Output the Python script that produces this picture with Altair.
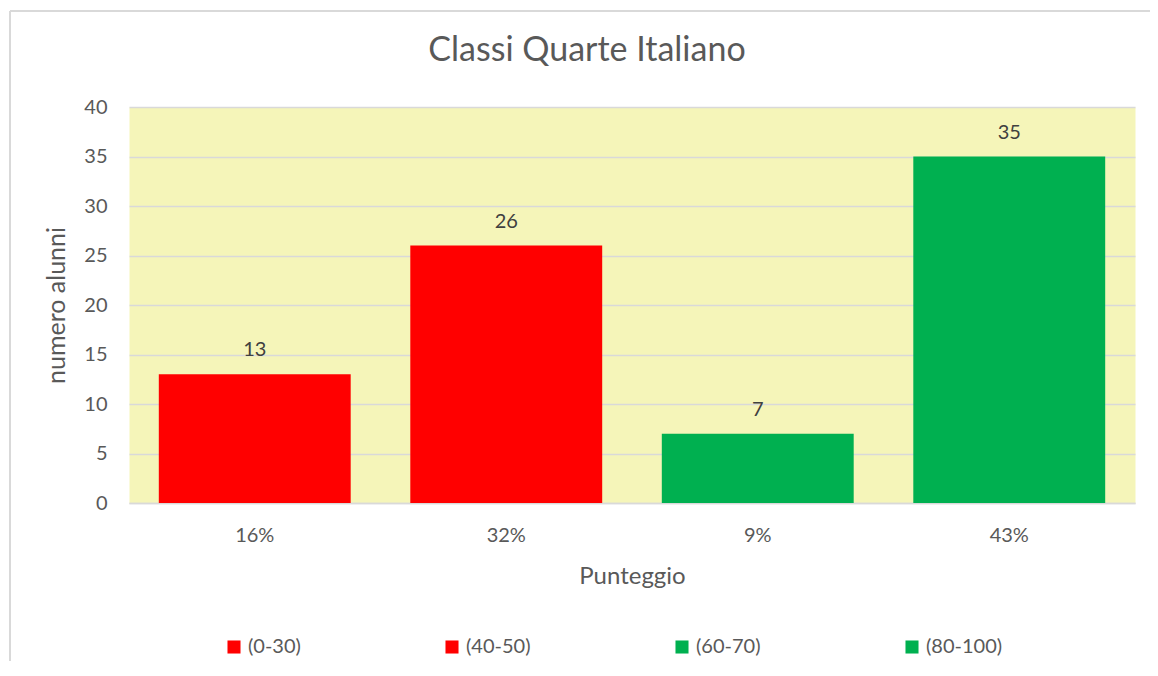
import altair as alt
import pandas as pd

fasce = ["(0-30)", "(40-50)", "(60-70)", "(80-100)"]
percentuali = ["16%", "32%", "9%", "43%"]
alunni = [13, 26, 7, 35]
colori = ["#FF0000", "#FF0000", "#00B050", "#00B050"]

df = pd.DataFrame({"fascia": fasce, "percentuale": percentuali, "alunni": alunni})

FONT = "Lato"
TXT = "#595959"

x_enc = alt.X("percentuale:N", sort=percentuali, title="Punteggio",
              scale=alt.Scale(paddingInner=0.237, paddingOuter=0.1185),
              axis=alt.Axis(labelAngle=0, labelFontSize=20, labelColor=TXT, labelFont=FONT,
                            titleFontSize=24, titleColor=TXT, titleFont=FONT, titleFontWeight="normal",
                            ticks=False, labelPadding=22, titlePadding=19,
                            domainColor="#D9D9D9", domainWidth=1.5, grid=False))
y_enc = alt.Y("alunni:Q", title="numero alunni",
              scale=alt.Scale(domain=[0, 40], nice=False),
              axis=alt.Axis(values=[0, 5, 10, 15, 20, 25, 30, 35, 40], labelFontSize=20,
                            labelColor=TXT, labelFont=FONT, labelPadding=22,
                            titleFontSize=25, titleColor=TXT, titleFont=FONT, titleFontWeight="normal",
                            titlePadding=14, ticks=False, domain=False,
                            gridColor="#D9D9D9", gridWidth=1.5))

bars = alt.Chart(df).mark_bar().encode(
    x=x_enc,
    y=y_enc,
    color=alt.Color("fascia:N", sort=fasce,
                    scale=alt.Scale(domain=fasce, range=colori),
                    legend=alt.Legend(title=None, orient="none", legendX=95, legendY=530,
                                      direction="horizontal", columns=4, columnPadding=141,
                                      symbolType="square", symbolSize=170, symbolStrokeWidth=0,
                                      labelFontSize=20, labelColor=TXT, labelFont=FONT,
                                      labelOffset=4)),
)

labels = alt.Chart(df).mark_text(dy=-24, fontSize=20, color="#404040", font=FONT).encode(
    x=alt.X("percentuale:N", sort=percentuali),
    y="alunni:Q",
    text="alunni:Q",
)

border_left = alt.Chart(df).mark_rule(color="#D9D9D9", strokeWidth=1.5).encode(
    x=alt.value(-119), y=alt.value(-96), y2=alt.value(700))
border_top = alt.Chart(df).mark_rule(color="#D9D9D9", strokeWidth=1.5).encode(
    x=alt.value(-119), x2=alt.value(1100), y=alt.value(-96))

chart = alt.layer(border_left, border_top, bars, labels).properties(
    width=1006, height=396,
    padding={"left": 121, "top": 99, "right": 15, "bottom": 158},
    autosize=alt.AutoSizeParams(type="none"),
    title=alt.TitleParams("Classi Quarte Italiano", fontSize=34, font=FONT, color=TXT,
                          fontWeight="normal", anchor="middle", dx=-45, offset=0,
                          baseline="alphabetic", dy=85),
).configure_view(fill="#F5F5B9", stroke="transparent")

chart.save("out.html", embed_options={"renderer": "svg", "actions": False})
